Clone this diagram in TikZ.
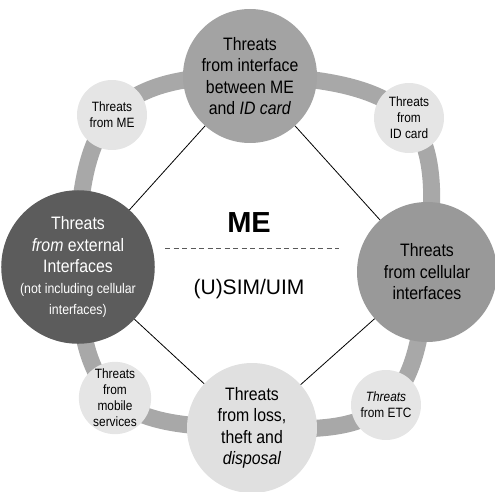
\documentclass[tikz,border=0pt]{standalone}
\usepackage{fontspec}
\setmainfont[FakeStretch=0.88]{Liberation Sans}
\newfontfamily\widefont{Liberation Sans}
\usetikzlibrary{backgrounds}
\definecolor{bandgray}{gray}{0.66}
\definecolor{topgray}{gray}{0.64}
\definecolor{leftgray}{gray}{0.36}
\definecolor{rightgray}{gray}{0.6}
\definecolor{botgray}{gray}{0.88}
\definecolor{smallgray}{gray}{0.9}
\tikzset{
  bigc/.style={circle, inner sep=0pt, align=center, font=\fontsize{18}{21.5}\selectfont},
  smallc/.style={circle, inner sep=0pt, align=center, fill=smallgray, minimum size=70pt, font=\fontsize{13.5}{16}\selectfont},
  link/.style={black, line width=0.8pt},
  band/.style={bandgray, line width=17pt}
}
\begin{document}
\begin{tikzpicture}[x=1pt,y=-1pt]
\useasboundingbox (0,0) rectangle (495,492);
% big circles
\node[bigc, fill=topgray, minimum size=134pt] (top) at (250,76) {Threats\\from interface\\between ME\\and \textit{ID card}};
\node[bigc, fill=leftgray, minimum size=134pt, text=white] (left) at (78,267) {Threats\\\textit{from} external\\Interfaces\\[-1pt]{\fontsize{14}{19}\selectfont (not including cellular}\\{\fontsize{14}{19}\selectfont interfaces)}};
\node[bigc, fill=rightgray, minimum size=140pt] (right) at (427,272) {Threats\\from cellular\\interfaces};
\node[bigc, fill=botgray, minimum size=130pt] (bot) at (252,428) {Threats\\from loss,\\theft and\\\textit{disposal}};
% small circles
\node[smallc] (sme) at (112,115) {Threats\\from ME};
\node[smallc] (sid) at (409,118) {Threats\\from\\ID card};
\node[smallc] (smob) at (115,398) {Threats\\from\\mobile\\services};
\node[smallc] (setc) at (386,405) {\textit{Threats}\\from ETC};
% centre text
\node[font=\widefont\bfseries\fontsize{29}{32}\selectfont, inner sep=0pt] (me) at (249,223) {ME};
\node[font=\widefont\fontsize{21}{24}\selectfont, inner sep=0pt] (sim) at (249,289) {(U)SIM/UIM};
\coordinate (dl) at (165,248);
\coordinate (dr) at (339,248);
\draw[gray!70!black, line width=0.8pt, dash pattern=on 5pt off 3.5pt] (dl) -- (dr);
% diamond links
\draw[link] (top) -- (left);
\draw[link] (top) -- (right);
\draw[link] (left) -- (bot);
\draw[link] (right) -- (bot);
% ring band
\begin{pgfonlayer}{background}
\draw[band] plot[smooth cycle, tension=0.65] coordinates {(top.center) (sid.center) (right.center) (setc.center) (bot.center) (smob.center) (left.center) (sme.center)};
\end{pgfonlayer}
\end{tikzpicture}
\end{document}
